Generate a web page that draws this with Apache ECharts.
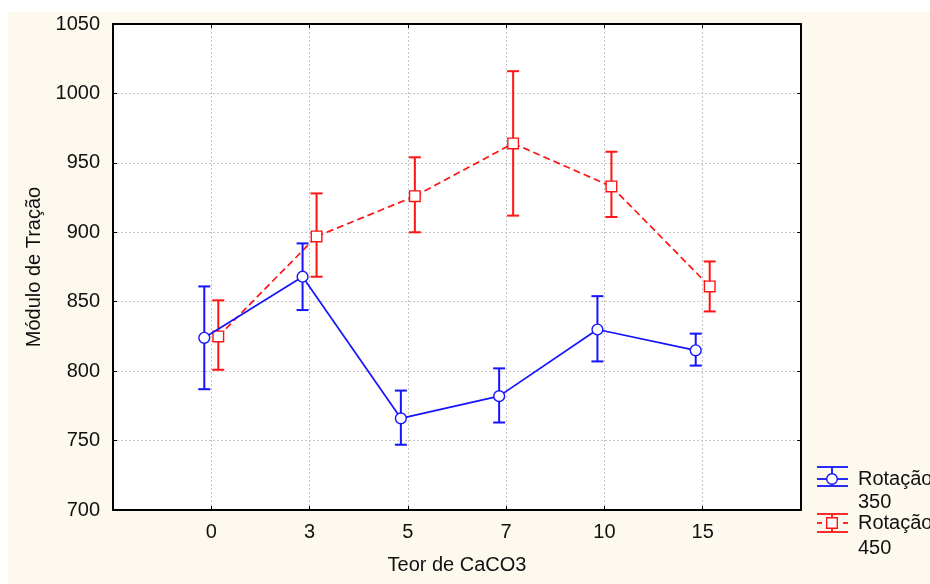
<!DOCTYPE html>
<html><head><meta charset="utf-8">
<script src="https://cdn.jsdelivr.net/npm/echarts@6/dist/echarts.min.js"></script>
<style>html,body{margin:0;padding:0;background:#fff;}#c{position:absolute;left:8px;top:12px;width:922px;height:572px;background:#fdf9ef;}</style>
</head><body><div id="c"></div><script>
const categories = ['0', '3', '5', '7', '10', '15'];
const rot350Mean = [824, 868, 766, 782, 830, 815];
const rot350Low  = [787, 844, 747, 763, 807, 804];
const rot350High = [861, 892, 786, 802, 854, 827];
const rot450Mean = [825, 897, 926, 964, 933, 861];
const rot450Low  = [801, 868, 900, 912, 911, 843];
const rot450High = [851, 928, 954, 1016, 958, 879];
const seriesNames = ['Rotação 350', 'Rotação 450'];
const legendLines = [['Rotação', '350'], ['Rotação', '450']];

const BLUE = '#1414ff', RED = '#ff1414';
const FONT = 'Liberation Sans, Arial, sans-serif';
const FS = 20;
const axisCats = [''].concat(categories, ['']);

function buildData(mean, lo, hi) {
  return mean.map((m, i) => [i + 1, m, lo[i], hi[i]]);
}
function makeRender(means, color, offset, dash, symbol) {
  return function (params, api) {
    const i = params.dataIndex;
    const xi = api.value(0);
    const p = api.coord([xi, api.value(1)]);
    const lo = api.coord([xi, api.value(2)]);
    const hi = api.coord([xi, api.value(3)]);
    const x = p[0] + offset;
    const ch = [];
    if (i > 0) {
      const q = api.coord([xi - 1, means[i - 1]]);
      ch.push({type: 'line', z2: 1, shape: {x1: q[0] + offset, y1: q[1], x2: x, y2: p[1]},
        style: {stroke: color, lineWidth: 1.7, lineDash: dash}});
    }
    const es = {stroke: color, lineWidth: 2};
    ch.push({type: 'line', z2: 2, shape: {x1: x, y1: hi[1], x2: x, y2: lo[1]}, style: es});
    ch.push({type: 'line', z2: 2, shape: {x1: x - 6, y1: hi[1], x2: x + 6, y2: hi[1]}, style: es});
    ch.push({type: 'line', z2: 2, shape: {x1: x - 6, y1: lo[1], x2: x + 6, y2: lo[1]}, style: es});
    const ss = {fill: '#fff', stroke: color, lineWidth: 1.4};
    if (symbol === 'circle') {
      ch.push({type: 'circle', z2: 3, shape: {cx: x, cy: p[1], r: 5.4}, style: ss});
    } else {
      ch.push({type: 'rect', z2: 3, shape: {x: x - 5.3, y: p[1] - 5.3, width: 10.6, height: 10.6}, style: ss});
    }
    return {type: 'group', children: ch};
  };
}

function legendIcon(color, top, mid, bottom, symbol, dashed) {
  const cx = 824, x1 = 809, x2 = 840;
  const st = {stroke: color, lineWidth: 1.8};
  const els = [
    {type: 'line', shape: {x1: x1, y1: top, x2: x2, y2: top}, style: st},
    {type: 'line', shape: {x1: x1, y1: bottom, x2: x2, y2: bottom}, style: st},
    {type: 'line', shape: {x1: cx, y1: top, x2: cx, y2: bottom}, style: st}
  ];
  if (dashed) {
    els.push({type: 'line', shape: {x1: x1, y1: mid, x2: x1 + 5, y2: mid}, style: st});
    els.push({type: 'line', shape: {x1: x2 - 5, y1: mid, x2: x2, y2: mid}, style: st});
  } else {
    els.push({type: 'line', shape: {x1: x1, y1: mid, x2: x2, y2: mid}, style: st});
  }
  const ss = {fill: '#fff', stroke: color, lineWidth: 1.4};
  if (symbol === 'circle') els.push({type: 'circle', shape: {cx: cx, cy: mid, r: 5.3}, style: ss});
  else els.push({type: 'rect', shape: {x: cx - 5.3, y: mid - 5.3, width: 10.6, height: 10.6}, style: ss});
  return els;
}
function legendText(t, y) {
  return {type: 'text', x: 850, y: y, style: {text: t, fontSize: FS, fontFamily: FONT, fill: '#111', verticalAlign: 'middle'}};
}

const gridLine = {show: true, lineStyle: {color: '#c4c4c4', type: [2, 2], width: 1}};
const axisLineBlack = {show: true, lineStyle: {color: '#000', width: 2}};

const chart = echarts.init(document.getElementById('c'));
chart.setOption({
  animation: false,
  textStyle: {fontFamily: FONT},
  grid: {left: 105, top: 12, right: 129, bottom: 74, show: true, backgroundColor: '#fff', borderWidth: 0},
  xAxis: [{
    type: 'category', data: axisCats, boundaryGap: false,
    axisLine: axisLineBlack,
    axisTick: {show: true, inside: true, length: 4, lineStyle: {color: '#000'}},
    axisLabel: {fontSize: FS, color: '#111', margin: 12, interval: 0},
    splitLine: gridLine,
    name: 'Teor de CaCO3', nameLocation: 'middle', nameGap: 45,
    nameTextStyle: {fontSize: FS, color: '#111'}
  }, {
    type: 'category', data: axisCats, boundaryGap: false, position: 'top',
    axisLine: axisLineBlack,
    axisTick: {show: true, inside: true, length: 4, lineStyle: {color: '#000'}},
    axisLabel: {show: false}, splitLine: {show: false}
  }],
  yAxis: [{
    type: 'value', min: 700, max: 1050, interval: 50,
    axisLine: axisLineBlack,
    axisTick: {show: true, inside: true, length: 4, lineStyle: {color: '#000'}},
    axisLabel: {fontSize: FS, color: '#111', margin: 13, formatter: v => String(v)},
    splitLine: gridLine,
    name: 'Módulo de Tração', nameLocation: 'middle', nameGap: 65,
    nameTextStyle: {fontSize: FS, color: '#111'}
  }, {
    type: 'value', min: 700, max: 1050, interval: 50, position: 'right',
    axisLine: axisLineBlack,
    axisTick: {show: true, inside: true, length: 4, lineStyle: {color: '#000'}},
    axisLabel: {show: false}, splitLine: {show: false}
  }],
  series: [{
    name: seriesNames[1], type: 'custom', z: 2,
    data: buildData(rot450Mean, rot450Low, rot450High),
    renderItem: makeRender(rot450Mean, RED, 7, [7, 4], 'rect')
  }, {
    name: seriesNames[0], type: 'custom', z: 3,
    data: buildData(rot350Mean, rot350Low, rot350High),
    renderItem: makeRender(rot350Mean, BLUE, -7, null, 'circle')
  }],
  graphic: [].concat(
    legendIcon(BLUE, 455, 467, 474, 'circle', false),
    legendIcon(RED, 502, 511, 520, 'rect', true),
    [legendText(legendLines[0][0], 467), legendText(legendLines[0][1], 490),
     legendText(legendLines[1][0], 511), legendText(legendLines[1][1], 536)]
  )
});
</script></body></html>
